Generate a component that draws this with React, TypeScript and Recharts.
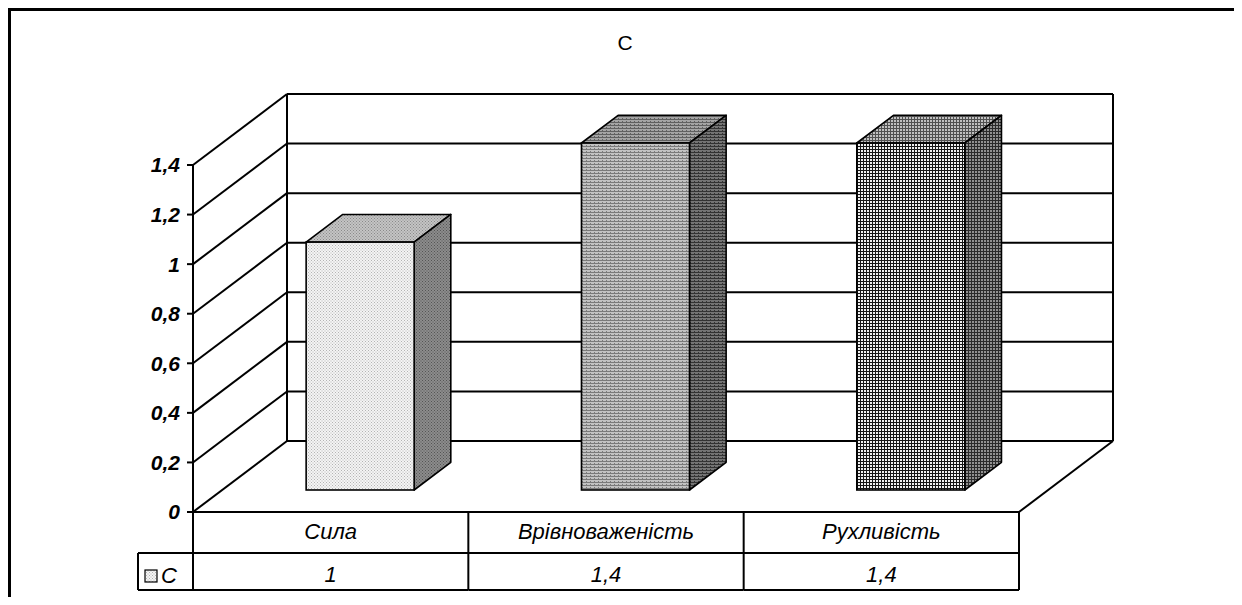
import React from 'react';
import { BarChart, Bar, XAxis, YAxis, ReferenceLine } from 'recharts';

// ---- data ----
const CATEGORIES = ['Сила', 'Врівноваженість', 'Рухливість'];
const SERIES_C = [1, 1.4, 1.4];
const SERIES_NAME = 'C';
const TITLE = 'C';
const Y_TICKS = [0, 0.2, 0.4, 0.6, 0.8, 1, 1.2, 1.4];

const data = CATEGORIES.map((name, i) => ({ name, C: SERIES_C[i], pos: i + 0.5 }));

// ---- layout ----
const W = 1232;
const H = 589;
const PLOT_LEFT = 185;
const PLOT_RIGHT = 1011;
const PLOT_TOP = 157;
const PLOT_BOTTOM = 504;
const Y_AXIS_W = 60;
const X_AXIS_H = 79;
const MARGIN = {
  top: PLOT_TOP,
  right: W - PLOT_RIGHT,
  bottom: H - PLOT_BOTTOM - X_AXIS_H,
  left: PLOT_LEFT - Y_AXIS_W,
};
const PLOT_W = PLOT_RIGHT - PLOT_LEFT;
const PLOT_H = PLOT_BOTTOM - PLOT_TOP;
const Y_MAX = 1.4;
const X_MAX = CATEGORIES.length;
const DEPTH_PX_X = 94;
const DEPTH_PX_Y = 71;
const DX = DEPTH_PX_X / (PLOT_W / X_MAX);
const DY = DEPTH_PX_Y / (PLOT_H / Y_MAX);
const BAR_FRONT = 0.31;
const BAR_BACK = 0.7;
const CELL_HALF = PLOT_W / X_MAX / 2;
const ROW1_H = 41;
const LEGEND_W = 55;
const FONT = '"Liberation Sans", Arial, sans-serif';
const TXT = 22;

const fmt = (v: number) => String(v).replace('.', ',');

// wall / floor segments in data coordinates
const segments: { x: number; y: number }[][] = [];
Y_TICKS.forEach((v) => {
  segments.push([{ x: 0, y: v }, { x: DX, y: v + DY }]);
  segments.push([{ x: DX, y: v + DY }, { x: X_MAX + DX, y: v + DY }]);
});
segments.push([{ x: DX, y: DY }, { x: DX, y: Y_MAX + DY }]);
segments.push([{ x: X_MAX + DX, y: DY }, { x: X_MAX + DX, y: Y_MAX + DY }]);
segments.push([{ x: X_MAX, y: 0 }, { x: X_MAX + DX, y: DY }]);

const FILLS = [
  ['url(#p1f)', 'url(#p1t)', 'url(#p1s)'],
  ['url(#p2f)', 'url(#p2t)', 'url(#p2s)'],
  ['url(#p3f)', 'url(#p3t)', 'url(#p3s)'],
];

const Box3D = (props: any) => {
  const { x, y, width, height, index } = props;
  const fx = BAR_FRONT * DEPTH_PX_X;
  const fy = BAR_FRONT * DEPTH_PX_Y;
  const bx = (BAR_BACK - BAR_FRONT) * DEPTH_PX_X;
  const by = (BAR_BACK - BAR_FRONT) * DEPTH_PX_Y;
  const x0 = x + fx;
  const y0 = y - fy;
  const x1 = x0 + width;
  const y1 = y0 + height;
  const [ff, ft, fs] = FILLS[index % FILLS.length];
  const sw = 1.6;
  return (
    <g>
      <polygon
        points={`${x0},${y0} ${x1},${y0} ${x1 + bx},${y0 - by} ${x0 + bx},${y0 - by}`}
        fill={ft}
        stroke="#000"
        strokeWidth={sw}
        strokeLinejoin="round"
      />
      <polygon
        points={`${x1},${y0} ${x1 + bx},${y0 - by} ${x1 + bx},${y1 - by} ${x1},${y1}`}
        fill={fs}
        stroke="#000"
        strokeWidth={sw}
        strokeLinejoin="round"
      />
      <rect x={x0} y={y0} width={width} height={height} fill={ff} stroke="#000" strokeWidth={sw} />
    </g>
  );
};

const TableTick = (props: any) => {
  const { x, y, payload, index } = props;
  const top = y;
  const left = x - CELL_HALF;
  const right = x + CELL_HALF;
  const bottom = top + X_AXIS_H - 1;
  const mid = top + ROW1_H;
  const val = SERIES_C[index];
  const ls = { stroke: '#000', strokeWidth: 2 };
  return (
    <g>
      <line x1={right} y1={top} x2={right} y2={bottom} {...ls} />
      {index === 0 && <line x1={left} y1={top} x2={left} y2={bottom} {...ls} />}
      <line x1={index === 0 ? left - LEGEND_W : left} y1={mid} x2={right} y2={mid} {...ls} />
      <line x1={index === 0 ? left - LEGEND_W : left} y1={bottom} x2={right} y2={bottom} {...ls} />
      {index === 0 && (
        <g>
          <line x1={left - LEGEND_W} y1={mid} x2={left - LEGEND_W} y2={bottom} {...ls} />
          <rect x={left - LEGEND_W + 7} y={mid + 17} width={12} height={12} fill="url(#p1f)" stroke="#000" strokeWidth={1.2} />
          <text x={left - LEGEND_W + 23} y={mid + 30} fontSize={TXT} fontStyle="italic" fontFamily={FONT} fill="#000">
            {SERIES_NAME}
          </text>
        </g>
      )}
      <text x={x} y={top + 27} textAnchor="middle" fontSize={TXT} fontStyle="italic" fontFamily={FONT} fill="#000">
        {payload.value}
      </text>
      <text x={x} y={mid + 29} textAnchor="middle" fontSize={TXT} fontStyle="italic" fontFamily={FONT} fill="#000">
        {fmt(val)}
      </text>
    </g>
  );
};

const Pat = ({ id, bg, fg, kind }: { id: string; bg: string; fg: string; kind: string }) => {
  if (kind === 'dots') {
    return (
      <pattern id={id} width="3" height="3" patternUnits="userSpaceOnUse">
        <rect width="3" height="3" fill={bg} />
        <rect x="0" y="0" width="1" height="1" fill={fg} />
        <rect x="1.5" y="1.5" width="1" height="1" fill={fg} />
      </pattern>
    );
  }
  if (kind === 'stripe') {
    return (
      <pattern id={id} width="4" height="3" patternUnits="userSpaceOnUse">
        <rect width="4" height="3" fill={bg} />
        <rect x="0" y="0" width="4" height="1" fill={fg} />
        <rect x="2" y="2" width="1" height="1" fill={fg} />
      </pattern>
    );
  }
  return (
    <pattern id={id} width="3" height="3" patternUnits="userSpaceOnUse">
      <rect width="3" height="3" fill={fg} />
      <rect x="1" y="1" width="2" height="2" fill={bg} />
    </pattern>
  );
};

export default function App() {
  return (
    <div
      style={{
        position: 'relative',
        width: W,
        height: H,
        boxSizing: 'border-box',
        borderTop: '3px solid #000',
        borderLeft: '3px solid #000',
        borderRight: '3px solid #000',
      }}
    >
      <div style={{ position: 'absolute', left: -3, top: -3, width: W, height: H }}>
        <svg width={0} height={0} style={{ position: 'absolute' }}>
          <defs>
            <Pat id="p1f" bg="#f4f4f4" fg="#b4b4b4" kind="dots" />
            <Pat id="p1t" bg="#c4c4c4" fg="#8a8a8a" kind="dots" />
            <Pat id="p1s" bg="#8c8c8c" fg="#555555" kind="dots" />
            <Pat id="p2f" bg="#c2c2c2" fg="#7a7a7a" kind="stripe" />
            <Pat id="p2t" bg="#a4a4a4" fg="#606060" kind="stripe" />
            <Pat id="p2s" bg="#747474" fg="#333333" kind="stripe" />
            <Pat id="p3f" bg="#f0f0f0" fg="#151515" kind="mesh" />
            <Pat id="p3t" bg="#c0c0c0" fg="#505050" kind="mesh" />
            <Pat id="p3s" bg="#909090" fg="#2a2a2a" kind="mesh" />
          </defs>
        </svg>
        <div
          style={{
            position: 'absolute',
            left: 567,
            width: 100,
            top: 24,
            textAlign: 'center',
            fontFamily: FONT,
            fontSize: 21,
            lineHeight: '21px',
            color: '#000',
          }}
        >
          {TITLE}
        </div>
        <BarChart width={W} height={H} data={data} margin={MARGIN} barSize={108}>
          <XAxis
            dataKey="name"
            xAxisId={0}
            height={X_AXIS_H}
            interval={0}
            axisLine={{ stroke: '#000', strokeWidth: 2 }}
            tickLine={false}
            tickSize={0}
            tickMargin={0}
            tick={(p: any) => <TableTick {...p} />}
          />
          <XAxis
            xAxisId="num"
            dataKey="pos"
            type="number"
            domain={[0, X_MAX]}
            allowDataOverflow
            padding={{ left: 0, right: 0 }}
            hide
          />
          <YAxis
            type="number"
            domain={[0, Y_MAX]}
            ticks={Y_TICKS}
            interval={0}
            width={Y_AXIS_W}
            tickFormatter={fmt}
            axisLine={{ stroke: '#000', strokeWidth: 2 }}
            tickLine={{ stroke: '#000', strokeWidth: 2 }}
            tickSize={6}
            tickMargin={7}
            tick={{ fill: '#000', fontSize: 21, fontWeight: 'bold', fontStyle: 'italic', fontFamily: FONT }}
          />
          {segments.map((s, i) => (
            <ReferenceLine
              key={i}
              xAxisId="num"
              segment={s}
              ifOverflow="visible"
              stroke="#000"
              strokeWidth={2}
              zIndex={-10}
            />
          ))}
          <Bar dataKey="C" xAxisId={0} isAnimationActive={false} shape={(p: any) => <Box3D {...p} />} />
        </BarChart>
      </div>
    </div>
  );
}
